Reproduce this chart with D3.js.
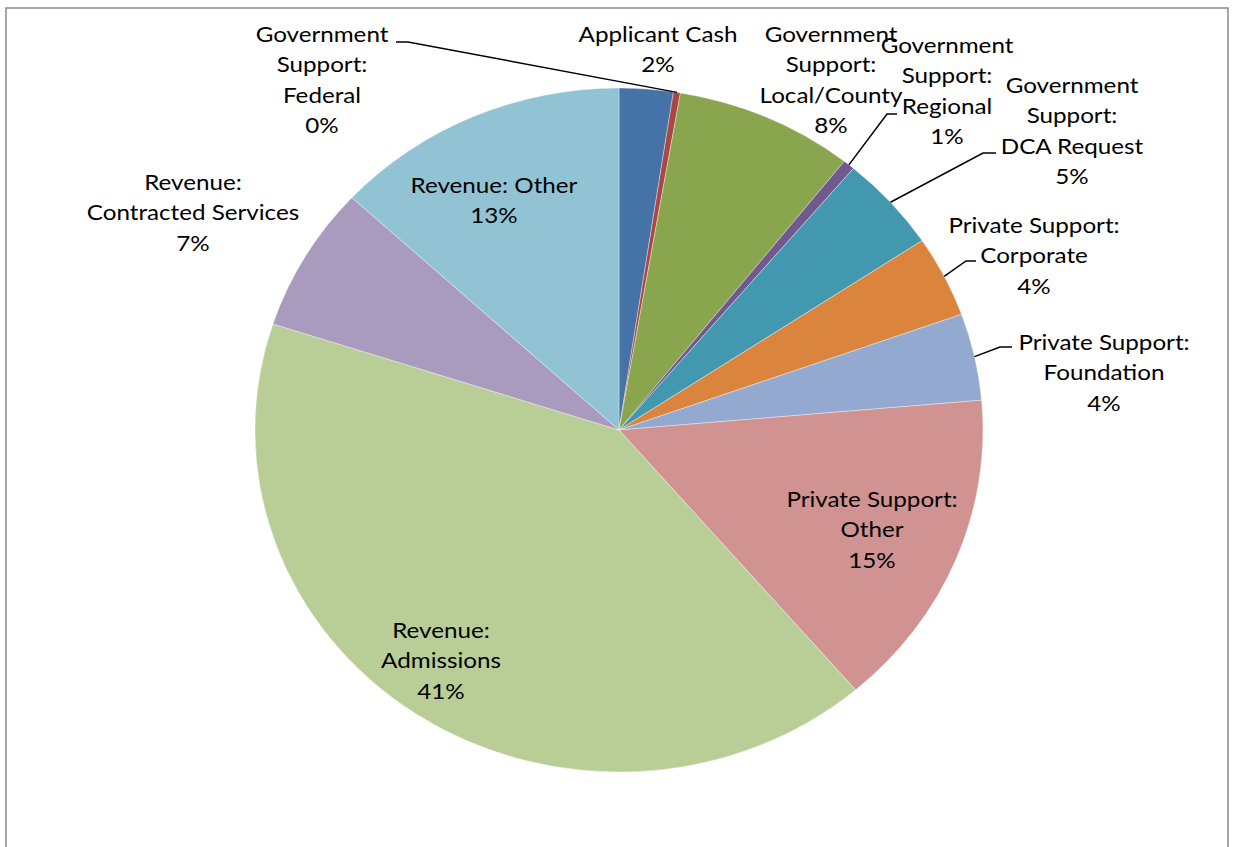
<!DOCTYPE html>
<html>
<head>
<meta charset="utf-8">
<script src="https://cdn.jsdelivr.net/npm/d3@7"></script>
<style>
  html, body { margin: 0; padding: 0; background: #fff; }
  svg { display: block; }
  .lbl { font-family: Lato, "Open Sans", sans-serif; font-size: 22px; fill: #000; }
</style>
</head>
<body>
<svg id="chart" width="1233" height="847"></svg>
<script>
// data (percent share of each funding source, clockwise from 12 o'clock)
const categories = [
    "Applicant Cash",
    "Government Support: Federal",
    "Government Support: Local/County",
    "Government Support: Regional",
    "Government Support: DCA Request",
    "Private Support: Corporate",
    "Private Support: Foundation",
    "Private Support: Other",
    "Revenue: Admissions",
    "Revenue: Contracted Services",
    "Revenue: Other"
];
const shares = [2.39, 0.31, 7.92, 0.52, 4.52, 3.85, 4.1, 15.13, 41.28, 6.87, 13.11];
const labelLines = [
    ["Applicant Cash"],
    ["Government", "Support:", "Federal"],
    ["Government", "Support:", "Local/County"],
    ["Government", "Support:", "Regional"],
    ["Government", "Support:", "DCA Request"],
    ["Private Support:", "Corporate"],
    ["Private Support:", "Foundation"],
    ["Private Support:", "Other"],
    ["Revenue:", "Admissions"],
    ["Revenue:", "Contracted Services"],
    ["Revenue: Other"]
];

// styling
const palette = ["#4572A7", "#AA4643", "#89A54E", "#71588F", "#4198AF", "#DB843D",
                 "#93A9CF", "#D19392", "#B9CD96", "#A99BBD", "#92C3D5"];

// label placement (first baseline) and leader lines, picked by hand like Excel does
const labelPos = [
    { x: 658, y: 42 },
    { x: 322, y: 42, elbow: [408, 42], end: [396, 42] },
    { x: 831, y: 42 },
    { x: 947, y: 53, elbow: [887, 114], end: [897, 114] },
    { x: 1072, y: 93, elbow: [983, 153], end: [996, 153] },
    { x: 1034, y: 233, elbow: [966, 261], end: [976, 261] },
    { x: 1104, y: 350, elbow: [1000, 347], end: [1012, 347] },
    { x: 872, y: 507 },
    { x: 441, y: 638 },
    { x: 193, y: 190 },
    { x: 494, y: 193 }
];
const lineHeight = 30.5;
const textStretch = 1.1; // Calibri-ish width from Lato glyphs

const svg = d3.select("#chart");
const cx = 619, cy = 430, rx = 364, ry = 342;

// chart frame
svg.append("rect")
    .attr("x", 6).attr("y", 8)
    .attr("width", 1222).attr("height", 900)
    .attr("fill", "#fff")
    .attr("stroke", "#8a8a8a")
    .attr("stroke-width", 1.5);

const data = categories.map((c, i) => ({ name: c, value: shares[i], i: i }));
const total = d3.sum(shares);

const pie = d3.pie().sort(null).value(d => d.value);
const arcs = pie(data);
const arc = d3.arc().innerRadius(0).outerRadius(ry);

// the picture is a little wider than tall, so squash a circle into an ellipse
const g = svg.append("g")
    .attr("transform", "translate(" + cx + "," + cy + ") scale(" + (rx / ry) + ",1)");

g.selectAll("path")
    .data(arcs)
    .enter().append("path")
    .attr("d", arc)
    .attr("fill", d => palette[d.data.i])
    .attr("stroke", "#fff")
    .attr("stroke-opacity", 0.6)
    .attr("stroke-width", 0.6)
    .attr("vector-effect", "non-scaling-stroke");

// leader lines
const leaders = svg.append("g");
arcs.forEach(a => {
    const p = labelPos[a.data.i];
    if (!p.elbow) return;
    const mid = (a.startAngle + a.endAngle) / 2;
    const sx = cx + rx * Math.sin(mid);
    const sy = cy - ry * Math.cos(mid);
    leaders.append("path")
        .attr("d", d3.line()([[sx, sy], p.elbow, p.end]))
        .attr("fill", "none")
        .attr("stroke", "#000")
        .attr("stroke-width", 1.5);
});

// labels
const labels = svg.append("g");
arcs.forEach(a => {
    const i = a.data.i;
    const p = labelPos[i];
    const pct = Math.round(a.data.value / total * 100) + "%";
    const lines = labelLines[i].concat([pct]);
    const t = labels.append("text")
        .attr("class", "lbl")
        .attr("text-anchor", "middle")
        .attr("transform", "translate(" + p.x + "," + p.y + ") scale(" + textStretch + ",1)");
    lines.forEach((s, k) => {
        t.append("tspan")
            .attr("x", 0)
            .attr("y", k * lineHeight)
            .text(s);
    });
});
</script>
</body>
</html>
